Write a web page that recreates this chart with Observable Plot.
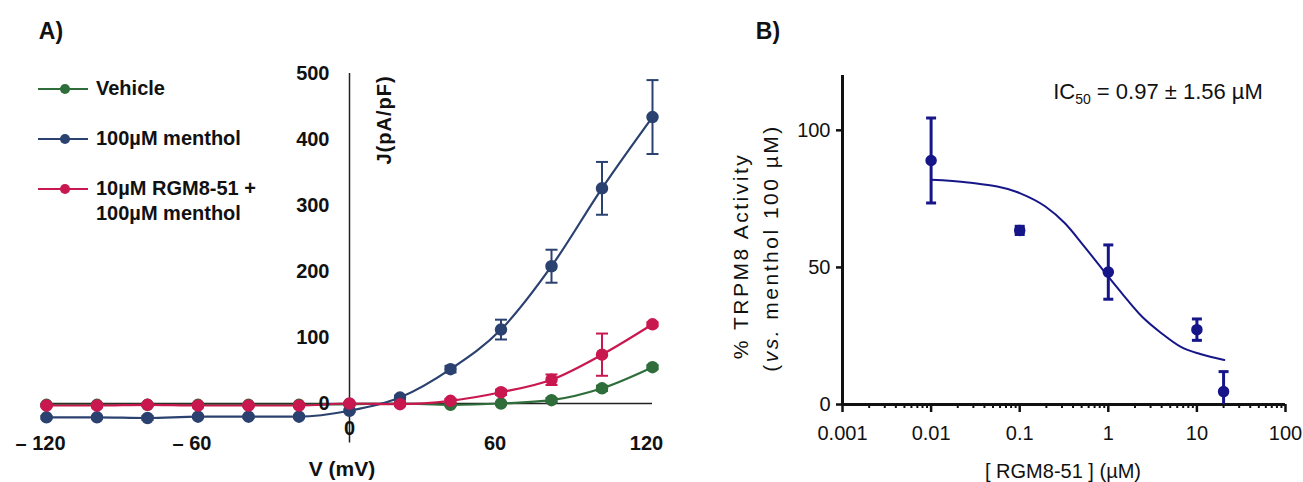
<!DOCTYPE html>
<html>
<head>
<meta charset="utf-8">
<script src="https://cdn.jsdelivr.net/npm/d3@7"></script>
<script src="https://cdn.jsdelivr.net/npm/@observablehq/plot@0.6"></script>
<style>
  html, body { margin: 0; padding: 0; background: #fff; }
  #wrap { position: relative; width: 1303px; height: 482px; overflow: hidden; font-family: "Liberation Sans", Arial, sans-serif; color: #111; }
  .abs { position: absolute; white-space: nowrap; }
  .c { transform: translate(-50%, -50%); }
  .panel { position: absolute; top: 0; }
  .leg { position: absolute; display: flex; align-items: center; font-weight: bold; font-size: 20px; }
</style>
</head>
<body>
<div id="wrap"></div>
<script>
// ---------- Panel A data ----------
const voltages = [-120, -100, -80, -60, -40, -20, 0, 20, 40, 60, 80, 100, 120];
const vehicleJ   = [-2, -2, -2, -2, -2, -2, -1, 0, -2, 0, 5, 23, 55];
const vehicleErr = [1, 1, 1, 1, 1, 1, 1, 2, 2, 2, 3, 4, 3];
const mentholJ   = [-21, -21, -22, -20, -20, -20, -11, 9, 52, 112, 208, 326, 434];
const mentholErr = [2, 2, 3, 2, 2, 2, 2, 3, 5, 15, 25, 40, 56];
const rgmJ       = [-3, -3, -2, -3, -3, -3, 0, -1, 4, 17, 36, 74, 120];
const rgmErr     = [2, 3, 2, 3, 2, 2, 2, 2, 3, 4, 8, 32, 3];
const seriesNames = ["Vehicle", "100µM menthol", "10µM RGM8-51 + 100µM menthol"];
const seriesColors = ["#2f6e3b", "#2b4170", "#c9184f"];
const yTicksA = [0, 100, 200, 300, 400, 500];
const xTicksA = [-120, -60, 60, 120];
const xTickLabelsA = ["– 120", "– 60", "60", "120"];

// ---------- Panel B data ----------
const conc      = [0.01, 0.1, 1, 10, 20];
const activity  = [89, 63.5, 48.3, 27.3, 4.7];
const activityErr = [15.5, 1.5, 9.9, 3.9, 7.3];
const fitConc   = [0.01, 0.026, 0.1, 0.195, 0.324, 0.537, 1, 1.47, 2.41, 3.98, 6.6, 10.9, 20.4];
const fitAct    = [82.0, 81.0, 77.1, 72.2, 66.1, 57.6, 46.6, 40.0, 32.0, 26.0, 21.0, 18.4, 16.2];
const xTicksB = [0.001, 0.01, 0.1, 1, 10, 100];
const xTickLabelsB = ["0.001", "0.01", "0.1", "1", "10", "100"];
const yTicksB = [0, 50, 100];
const navy = "#161689";

const FONT = '"Liberation Sans", Arial, sans-serif';
const capSymbol = { draw(ctx, size) { const r = Math.sqrt(size / Math.PI); ctx.moveTo(-r, 0); ctx.lineTo(r, 0); } };

// build tables
const tableA = [];
[vehicleJ, mentholJ, rgmJ].forEach((arr, si) => {
  const errs = [vehicleErr, mentholErr, rgmErr][si];
  arr.forEach((v, i) => tableA.push({ s: seriesNames[si], si, V: voltages[i], J: v, lo: v - errs[i], hi: v + errs[i] }));
});
const wrap = document.getElementById("wrap");

const marksA = [
  Plot.ruleY([0], { x1: -120, x2: 120, stroke: "#222", strokeWidth: 1.5 }),
  Plot.ruleX([0], { y1: -60, y2: 500, stroke: "#222", strokeWidth: 1.5 })
];
[0, 1, 2].forEach(si => {
  const d = tableA.filter(r => r.si === si);
  const col = seriesColors[si];
  marksA.push(
    Plot.line(d, { x: "V", y: "J", stroke: col, strokeWidth: 2.2, curve: "monotone-x" }),
    Plot.ruleX(d, { x: "V", y1: "lo", y2: "hi", stroke: col, strokeWidth: 2 }),
    Plot.dot(d, { x: "V", y: "lo", symbol: capSymbol, r: 6, stroke: col, strokeWidth: 2 }),
    Plot.dot(d, { x: "V", y: "hi", symbol: capSymbol, r: 6, stroke: col, strokeWidth: 2 }),
    Plot.dot(d, { x: "V", y: "J", r: 5.5, fill: col, stroke: col })
  );
});
marksA.push(
  Plot.text(yTicksA, { x: 0, y: d => d, text: d => String(d), dx: -20, textAnchor: "end", fontWeight: "bold", fontSize: 20 }),
  Plot.text(xTicksA, { x: d => d, frameAnchor: "bottom", dy: -6, dx: -6, text: (d, i) => xTickLabelsA[i], fontWeight: "bold", fontSize: 20 }),
  Plot.text([0], { x: d => d, frameAnchor: "bottom", dy: -21, text: d => String(d), fontWeight: "bold", fontSize: 20 })
);

const plotA = Plot.plot({
  width: 700, height: 482,
  marginLeft: 46, marginRight: 48, marginTop: 73, marginBottom: 26.2,
  x: { domain: [-120, 120], axis: null },
  y: { domain: [-80, 500], axis: null },
  style: { fontFamily: FONT, overflow: "visible", background: "transparent", color: "#111" },
  marks: marksA
});
const pa = document.createElement("div"); pa.className = "panel"; pa.style.left = "0px"; pa.appendChild(plotA); wrap.appendChild(pa);

// Panel B
const tableB = conc.map((c, i) => ({ c, a: activity[i], lo: activity[i] - activityErr[i], hi: activity[i] + activityErr[i] }));
const fitB = fitConc.map((c, i) => ({ c, a: fitAct[i] }));
const minorB = [];
for (const dec of [0.001, 0.01, 0.1, 1, 10]) for (let k = 2; k <= 9; k++) minorB.push(+(dec * k).toPrecision(3));

const plotB = Plot.plot({
  width: 603, height: 482,
  marginLeft: 142, marginRight: 18, marginTop: 75, marginBottom: 78,
  x: { type: "log", domain: [0.001, 100] },
  y: { domain: [0, 120] },
  style: { fontFamily: FONT, fontSize: "20px", overflow: "visible", background: "transparent", color: "#111" },
  marks: [
    Plot.axisX({ ticks: minorB, tickSize: 4, tickFormat: () => "", strokeWidth: 2, label: null }),
    Plot.axisX({ ticks: xTicksB, tickSize: 8, tickPadding: 13, tickFormat: (d) => xTickLabelsB[xTicksB.indexOf(d)], strokeWidth: 2.5, label: null }),
    Plot.axisY({ ticks: yTicksB, tickSize: 6, tickPadding: 6, strokeWidth: 2.5, label: null }),
    Plot.ruleY([0], { stroke: "#111", strokeWidth: 3 }),
    Plot.ruleX([0.001], { y1: 0, y2: 120, stroke: "#111", strokeWidth: 3 }),
    Plot.line(fitB, { x: "c", y: "a", stroke: navy, strokeWidth: 2, curve: "monotone-x" }),
    Plot.ruleX(tableB, { x: "c", y1: "lo", y2: "hi", stroke: navy, strokeWidth: 3, clip: true }),
    Plot.dot(tableB, { x: "c", y: "lo", symbol: capSymbol, r: 5, stroke: navy, strokeWidth: 3, clip: true }),
    Plot.dot(tableB, { x: "c", y: "hi", symbol: capSymbol, r: 5, stroke: navy, strokeWidth: 3, clip: true }),
    Plot.dot(tableB, { x: "c", y: "a", r: 5, fill: navy, stroke: navy })
  ]
});
const pb = document.createElement("div"); pb.className = "panel"; pb.style.left = "700px"; pb.appendChild(plotB); wrap.appendChild(pb);

// Text overlays
function addText(html, left, top, css) {
  const el = document.createElement("div");
  el.className = "abs c";
  el.innerHTML = html;
  el.style.left = left + "px"; el.style.top = top + "px";
  Object.assign(el.style, css || {});
  wrap.appendChild(el);
  return el;
}
addText("A)", 51, 31, { fontWeight: "bold", fontSize: "23px" });
addText("B)", 768, 31, { fontWeight: "bold", fontSize: "23px" });
addText("V (mV)", 342, 469, { fontWeight: "bold", fontSize: "21px" });
addText("J(pA/pF)", 384, 120, { fontWeight: "bold", fontSize: "20px", letterSpacing: "1px", transform: "translate(-50%,-50%) rotate(-90deg)" });
addText("[ RGM8-51 ] (µM)", 1063, 471, { fontSize: "20px" });
addText("% TRPM8 Activity", 741, 256, { fontSize: "21px", letterSpacing: "2.5px", transform: "translate(-50%,-50%) rotate(-90deg)" });
addText("(<i>vs.</i> menthol 100 µM)", 771, 248, { fontSize: "21px", letterSpacing: "2.5px", transform: "translate(-50%,-50%) rotate(-90deg)" });
addText("IC<sub style='font-size:14px;vertical-align:-5px'>50</sub> = 0.97 ± 1.56 µM", 1158, 93, { fontSize: "22px" });

// Legend (panel A)
const legY = [89, 139, 189];
seriesNames.forEach((name, i) => {
  const el = document.createElement("div");
  el.className = "leg";
  el.style.left = "38px"; el.style.top = (legY[i] - 10) + "px";
  el.style.alignItems = "flex-start";
  const sw = `<svg width="58" height="20" style="flex:none"><line x1="0" x2="50" y1="10" y2="10" stroke="${seriesColors[i]}" stroke-width="2.2"/><circle cx="27" cy="10" r="5" fill="${seriesColors[i]}"/></svg>`;
  const label = i === 2 ? "10µM RGM8-51 +<br>100µM menthol" : name;
  el.innerHTML = sw + `<span style="line-height:25px;margin-top:-3px;color:#111">${label}</span>`;
  wrap.appendChild(el);
});
</script>
</body>
</html>
